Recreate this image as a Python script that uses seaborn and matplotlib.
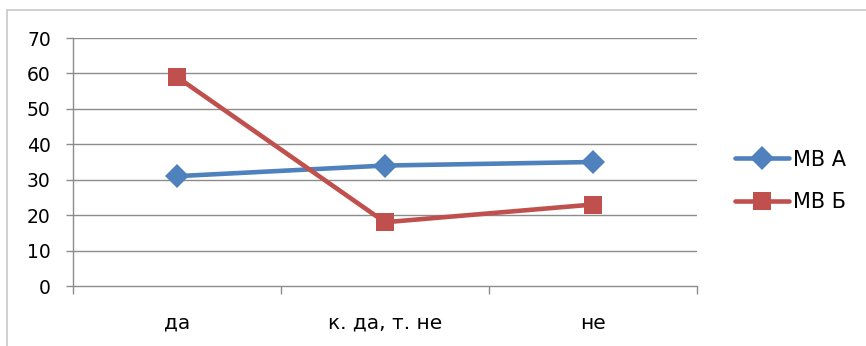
import matplotlib
matplotlib.use("Agg")
import matplotlib.pyplot as plt
from matplotlib.lines import Line2D
import seaborn as sns
import pandas as pd

categories = ["да", "к. да, т. не", "не"]
series_names = ["МВ А", "МВ Б"]
values_a = [31, 34, 35]
values_b = [59, 18, 23]
y_ticks = [0, 10, 20, 30, 40, 50, 60, 70]

df = pd.DataFrame({
    "category": categories * 2,
    "value": values_a + values_b,
    "series": [series_names[0]] * 3 + [series_names[1]] * 3,
})

sns.set_theme(style="white")
plt.rcParams["font.family"] = ["DejaVu Sans"]
plt.rcParams["text.color"] = "black"

W, H, DPI = 866, 346, 100
fig = plt.figure(figsize=(W / DPI, H / DPI), dpi=DPI)
ax = fig.add_axes([73 / W, 1 - 286 / H, (697 - 73) / W, (286 - 38) / H])

palette = {series_names[0]: "#4F81BD", series_names[1]: "#C0504D"}
markers = {series_names[0]: "D", series_names[1]: "s"}
sizes = {series_names[0]: 12, series_names[1]: 12.5}
lw = 3.3

for name in series_names:
    sub = df[df["series"] == name]
    sns.lineplot(data=sub, x="category", y="value", ax=ax, color=palette[name],
                 linewidth=lw, marker=markers[name], markersize=sizes[name],
                 markeredgewidth=0, sort=False, legend=False, zorder=3)

ax.set_xlim(-0.5, len(categories) - 0.5)
ax.set_ylim(0, 70)
ax.set_yticks(y_ticks)
ax.set_xticks(range(len(categories)))
ax.set_xticklabels(categories)
ax.set_xticks([i - 0.5 for i in range(len(categories) + 1)], minor=True)
ax.set_xlabel("")
ax.set_ylabel("")

grid_color = "#8C8C8C"
for y in y_ticks[1:]:
    ax.axhline(y, color=grid_color, linewidth=1.0, zorder=1)

for side in ["top", "right"]:
    ax.spines[side].set_visible(False)
ax.spines["left"].set_color(grid_color)
ax.spines["bottom"].set_color(grid_color)
ax.spines["left"].set_linewidth(1.0)
ax.spines["bottom"].set_linewidth(1.0)

ax.tick_params(axis="y", which="major", left=True, length=5, width=1.0,
               color=grid_color, labelsize=13.5, pad=11, labelcolor="black")
ax.tick_params(axis="x", which="major", bottom=False, labelsize=14.5, pad=14,
               labelcolor="black")
ax.tick_params(axis="x", which="minor", bottom=True, length=6, width=1.0,
               color=grid_color)

handles = [Line2D([0], [0], color=palette[n], linewidth=lw, marker=markers[n],
                  markersize=sizes[n], markeredgewidth=0) for n in series_names]
fig.legend(handles, series_names, loc="center left",
           bbox_to_anchor=(716 / W, 1 - 181 / H), frameon=False, fontsize=15,
           handlelength=2.6, handletextpad=0.2, labelspacing=1.1,
           labelcolor="black")

# outer chart frame
frame_color = "#C8C8C8"
fig.add_artist(Line2D([7 / W, 1.0], [1 - 9.5 / H, 1 - 9.5 / H],
                      transform=fig.transFigure, color=frame_color, linewidth=1.2))
fig.add_artist(Line2D([7 / W, 7 / W], [0.0, 1 - 9.5 / H],
                      transform=fig.transFigure, color=frame_color, linewidth=1.2))

fig.savefig("out.png", dpi=DPI)
